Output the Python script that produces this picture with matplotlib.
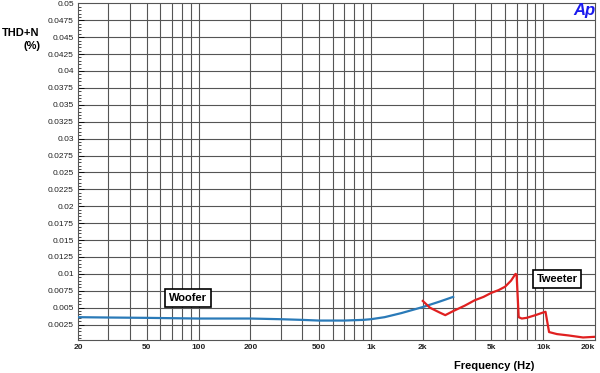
import matplotlib.pyplot as plt
import numpy as np
from matplotlib.ticker import FixedLocator, MultipleLocator, NullFormatter

plt.rcParams["font.family"] = ["Liberation Sans", "DejaVu Sans"]

# woofer THD+N (%)
woofer_hz = [20, 30, 50, 100, 200, 300, 400, 500, 700, 900, 1000, 1200, 1500, 2000, 2500, 3000]
woofer_thd = [0.0036, 0.00355, 0.0035, 0.0034, 0.0034, 0.0033, 0.0032, 0.0031, 0.0031, 0.0032, 0.0033, 0.0036, 0.0042, 0.0051, 0.0059, 0.0066]

# tweeter THD+N (%)
tweeter_hz = [2000, 2200, 2500, 2700, 3000, 3500, 4000, 4500, 5000, 5500, 6000, 6500, 6900, 7000, 7200, 7500, 8000, 9000, 10000, 10300, 10800, 12000, 14000, 17000, 20000]
tweeter_thd = [0.0060, 0.0050, 0.0043, 0.0039, 0.0045, 0.0053, 0.0061, 0.0066, 0.0072, 0.0076, 0.0081, 0.0090, 0.0100, 0.0099, 0.0036, 0.0034, 0.0035, 0.0039, 0.0043, 0.0044, 0.0014, 0.0011, 0.0009, 0.0006, 0.0007]

x_ticks = [20, 50, 100, 200, 500, 1000, 2000, 5000, 10000, 20000]
x_labels = ["20", "50", "100", "200", "500", "1k", "2k", "5k", "10k", "20k"]
y_ticks = np.arange(1, 21) * 0.0025
y_labels = ["%g" % v for v in y_ticks]

fig = plt.figure(figsize=(6, 3.73), dpi=100)
ax = fig.add_axes([0.13, 0.088, 0.862, 0.903])

grid_x = [m * 10 ** d for d in range(1, 5) for m in range(1, 10)]
grid_x = [g for g in grid_x if 20 < g < 20000]
for g in grid_x:
    ax.axvline(g, color="#555555", lw=0.8, zorder=1)
for v in y_ticks[:-1]:
    ax.axhline(v, color="#555555", lw=0.8, zorder=1)

ax.plot(woofer_hz, woofer_thd, color="#2a7ab8", lw=1.6, zorder=3)
ax.plot(tweeter_hz, tweeter_thd, color="#e02020", lw=1.6, zorder=3)

ax.set_xscale("log")
ax.set_xlim(20, 20000)
ax.set_ylim(0.0002, 0.05)
ax.xaxis.set_major_locator(FixedLocator(x_ticks))
ax.xaxis.set_minor_formatter(NullFormatter())
ax.xaxis.set_minor_locator(FixedLocator([]))
ax.set_xticklabels(x_labels, fontsize=6, fontweight="bold", color="#222222")
ax.get_xticklabels()[-1].set_ha("right")
ax.set_yticks(y_ticks)
ax.set_yticklabels(y_labels, fontsize=6, color="#222222")
ax.yaxis.set_minor_locator(MultipleLocator(0.0005))
ax.tick_params(axis="x", length=0, pad=3)
ax.tick_params(axis="y", which="major", length=4, width=0.6, direction="in", pad=3)
ax.tick_params(axis="y", which="minor", length=2, width=0.5, direction="in")
for s in ax.spines.values():
    s.set_color("#555555")
    s.set_linewidth(0.8)

box = dict(boxstyle="square,pad=0.35", fc="white", ec="black", lw=1.2)
ax.text(87, 0.0064, "Woofer", fontsize=8, fontweight="bold", ha="center", va="center", bbox=box, zorder=4)
ax.text(12000, 0.0092, "Tweeter", fontsize=8, fontweight="bold", ha="center", va="center", bbox=box, zorder=4)

fig.text(0.035, 0.911, "THD+N", fontsize=8, fontweight="bold", ha="center", va="center")
fig.text(0.054, 0.877, "(%)", fontsize=8, fontweight="bold", ha="center", va="center")
fig.text(0.823, 0.018, "Frequency (Hz)", fontsize=8, fontweight="bold", ha="center", va="center")
fig.text(0.992, 0.972, "Ap", fontsize=12, fontweight="bold", fontstyle="italic", color="#1a1aee", ha="right", va="center")

plt.savefig("out.png", dpi=100)
plt.close(fig)
